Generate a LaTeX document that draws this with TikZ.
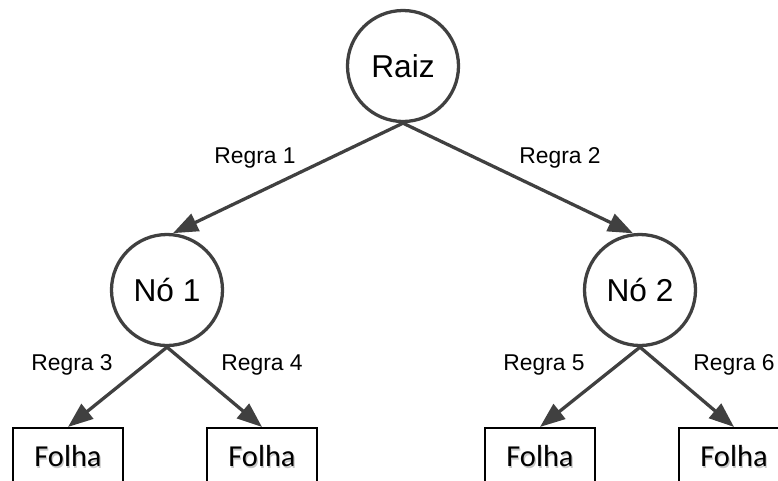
\documentclass[tikz,border=0pt]{standalone}
\usepackage{fontspec}
\setmainfont{Liberation Sans}
\newfontfamily\leaffont{Carlito}
\usetikzlibrary{arrows.meta}
\definecolor{edgegray}{RGB}{64,64,64}
% soft drop shadow behind leaf text
\newcommand{\shadowed}[1]{\makebox[0pt][l]{\hspace{0.9pt}\raisebox{-0.9pt}{\color{black!22}#1}}#1}

\begin{document}
\begin{tikzpicture}[
		x=0.3mm, y=-0.3mm,
		decision/.style={draw=edgegray, line width=2.8pt, circle, inner sep=0pt, minimum size=33.3mm, font=\fontsize{27}{32}\selectfont},
		leaf/.style={draw=black, line width=1.8pt, rectangle, minimum width=33mm, minimum height=17.4mm, font=\leaffont\fontsize{26}{30}\selectfont},
		rule/.style={font=\fontsize{19.5}{23}\selectfont},
		arrow/.style={draw=edgegray, line width=2.8pt, -{Triangle[length=7.5mm, width=5.6mm]}}
		]
		\useasboundingbox (0,0) rectangle (778,480);
		\clip (0,0) rectangle (778,480);
		
		% inner nodes
		\node[decision] (raiz) at (403,66) {Raiz};
		\node[decision] (no1) at (167,290) {Nó 1};
		\node[decision] (no2) at (640,290) {Nó 2};
		
		% leaves
		\node[leaf] (leaf1) at (68,457) {\shadowed{Folha}};
		\node[leaf] (leaf2) at (262,457) {\shadowed{Folha}};
		\node[leaf] (leaf3) at (540,457) {\shadowed{Folha}};
		\node[leaf] (leaf4) at (734,457) {\shadowed{Folha}};
		
		\draw[arrow] (raiz.south) -- (no1.84);
		\draw[arrow] (raiz.south) -- (no2.97);
		\draw[arrow] (no1.south) -- (leaf1.north);
		\draw[arrow] (no1.south) -- (leaf2.north);
		\draw[arrow] (no2.south) -- (leaf3.north);
		\draw[arrow] (no2.south) -- (leaf4.north);
		
		% rule labels
		\node[rule] (r1) at (255,158) {Regra 1};
		\node[rule] (r2) at (560,158) {Regra 2};
		\node[rule] (r3) at (72,365) {Regra 3};
		\node[rule] (r4) at (262,365) {Regra 4};
		\node[rule] (r5) at (544,365) {Regra 5};
		\node[rule] (r6) at (734,365) {Regra 6};
		
	\end{tikzpicture}
\end{document}
